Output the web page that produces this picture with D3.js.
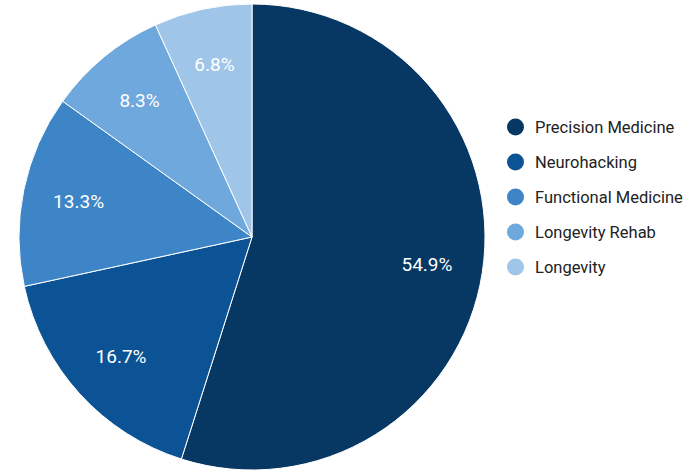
<!DOCTYPE html>
<html>
<head>
<meta charset="utf-8">
<script src="https://cdn.jsdelivr.net/npm/d3@7"></script>
<style>
  body { margin: 0; background: #fff; }
  svg { display: block; font-family: Roboto, sans-serif; }
</style>
</head>
<body>
<div id="chart"></div>
<script>
(function() {
  var categories = ["Precision Medicine", "Neurohacking", "Functional Medicine", "Longevity Rehab", "Longevity"];
  var values = [54.9, 16.7, 13.3, 8.3, 6.8];
  var colors = ["#073763", "#0b5394", "#3d85c6", "#6fa8dc", "#9fc5e8"];

  var width = 700, height = 472;
  var cx = 252, cy = 237, radius = 233;

  var svg = d3.select("#chart").append("svg")
              .attr("width", width)
              .attr("height", height);

  var pie = d3.pie().sort(null).value(function(d) { return d; });
  var arcs = pie(values);

  var arc = d3.arc().innerRadius(0).outerRadius(radius);
  var labelArc = d3.arc().innerRadius(radius * 0.76).outerRadius(radius * 0.76);

  var g = svg.append("g").attr("transform", "translate(" + cx + "," + cy + ")");

  g.selectAll("path")
    .data(arcs)
    .enter()
    .append("path")
    .attr("d", arc)
    .attr("fill", function(d, i) { return colors[i]; })
    .attr("stroke", "#fff")
    .attr("stroke-width", 1);

  g.selectAll("text")
    .data(arcs)
    .enter()
    .append("text")
    .attr("transform", function(d) { return "translate(" + labelArc.centroid(d) + ")"; })
    .attr("text-anchor", "middle")
    .attr("dy", "0.35em")
    .attr("fill", "#fff")
    .attr("font-size", 19)
    .text(function(d) { return d.data.toFixed(1) + "%"; });

  var legend = svg.append("g").attr("transform", "translate(515.5,127)");
  var items = legend.selectAll("g")
    .data(categories)
    .enter()
    .append("g")
    .attr("transform", function(d, i) { return "translate(0," + (i * 35) + ")"; });

  items.append("circle")
    .attr("r", 8.5)
    .attr("fill", function(d, i) { return colors[i]; });

  items.append("text")
    .attr("x", 19.5)
    .attr("dy", "0.35em")
    .attr("font-size", 16.5)
    .attr("fill", "#222")
    .text(function(d) { return d; });
})();
</script>
</body>
</html>
